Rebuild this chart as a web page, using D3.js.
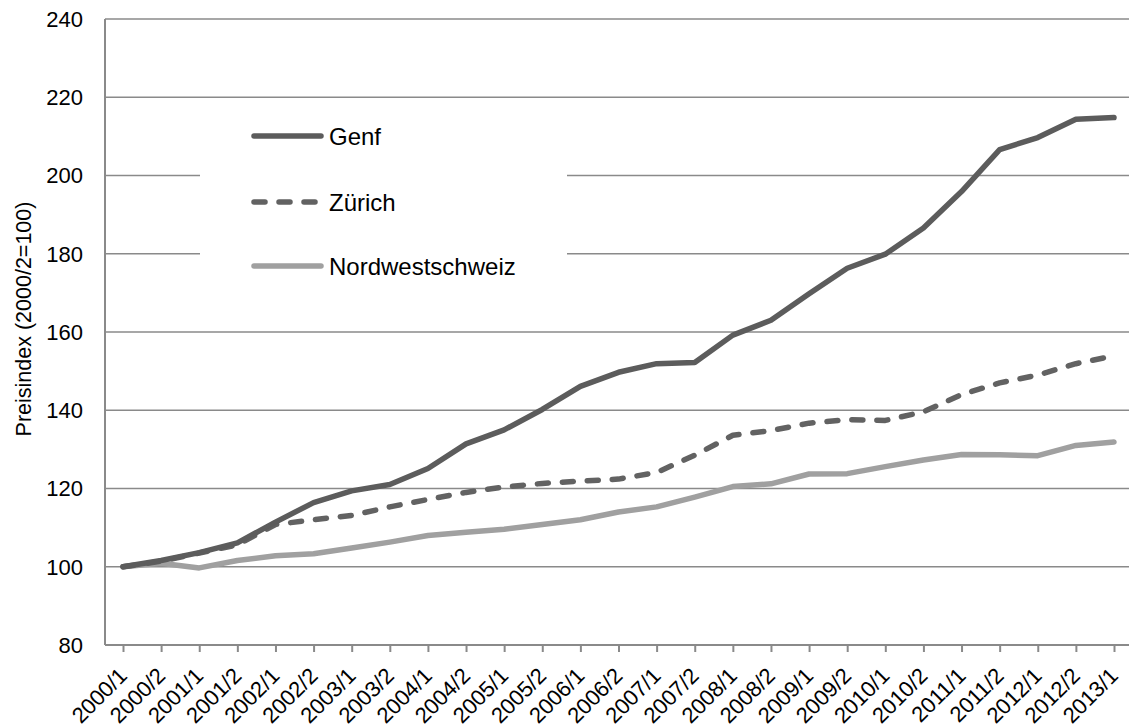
<!DOCTYPE html>
<html><head><meta charset="utf-8">
<script src="https://cdn.jsdelivr.net/npm/d3@7"></script>
<style>body{margin:0;background:#fff;}svg{display:block;font-family:"Liberation Sans",Arial,sans-serif;}</style>
</head><body>
<svg id="c" width="1129" height="727"></svg>
<script>
const categories = ["2000/1","2000/2","2001/1","2001/2","2002/1","2002/2","2003/1","2003/2","2004/1","2004/2","2005/1","2005/2","2006/1","2006/2","2007/1","2007/2","2008/1","2008/2","2009/1","2009/2","2010/1","2010/2","2011/1","2011/2","2012/1","2012/2","2013/1"];
const genf = [100,101.6,103.6,106.1,111.4,116.4,119.4,121.0,125.1,131.4,135.0,140.2,146.1,149.7,151.9,152.2,159.2,163.0,169.8,176.3,179.9,186.6,195.9,206.6,209.7,214.4,214.8];
const zuerich = [100,101.4,103.5,105.6,110.8,112.0,113.1,115.3,117.2,119.0,120.4,121.3,121.9,122.4,124.1,128.5,133.6,134.8,136.7,137.6,137.4,139.6,144.0,147.0,149.0,151.9,153.9];
const nordwest = [100,100.9,99.7,101.6,102.8,103.3,104.8,106.3,108.0,108.8,109.6,110.8,112.0,114.0,115.3,117.8,120.5,121.2,123.7,123.8,125.6,127.3,128.7,128.6,128.4,131.0,131.9];
const yTicks = [80,100,120,140,160,180,200,220,240];
const seriesNames = ["Genf","Zürich","Nordwestschweiz"];

const svg = d3.select("#c");
const pLeft = 105, pTop = 19, pBottom = 645, pRight = 1140;
const x = d3.scalePoint().domain(categories).range([123, 1114]);
const y = d3.scaleLinear().domain([80,240]).range([pBottom, pTop]);
const grid = "#8a8a8a";

// gridlines
svg.append("g").selectAll("line").data(yTicks.slice(1)).join("line")
  .attr("x1", pLeft).attr("x2", pRight).attr("y1", d=>y(d)).attr("y2", d=>y(d))
  .attr("stroke", grid).attr("stroke-width", 1.6);

// y axis line
svg.append("line").attr("x1",pLeft).attr("x2",pLeft).attr("y1",pTop).attr("y2",pBottom)
  .attr("stroke",grid).attr("stroke-width",2);
// x axis
const xa = svg.append("g").attr("transform",`translate(0,${pBottom})`)
  .call(d3.axisBottom(x).tickSize(7).tickPadding(0));
xa.select(".domain").attr("d",`M${pLeft},0H${pRight}`).attr("stroke",grid).attr("stroke-width",2);
xa.selectAll(".tick line").attr("stroke",grid).attr("stroke-width",2);
xa.selectAll(".tick text").attr("fill","#000").attr("font-size",22)
  .attr("text-anchor","end").attr("dy",0).attr("y",0)
  .attr("transform","translate(5,32) rotate(-45)");

// y tick labels
svg.append("g").selectAll("text").data(yTicks).join("text")
  .attr("x", 83).attr("y", d=>y(d)).attr("dy","0.36em").attr("text-anchor","end")
  .attr("font-size",22).attr("fill","#000").text(d=>d);

// y title
svg.append("text").attr("transform",`translate(31,319) rotate(-90)`)
  .attr("text-anchor","middle").attr("font-size",21.5).attr("fill","#000")
  .text("Preisindex (2000/2=100)");

// legend background
svg.append("rect").attr("x",200).attr("y",108).attr("width",367).attr("height",192).attr("fill","#fff");

const styles = [
  {c:"#5c5c5c", dash:null},
  {c:"#626262", dash:"11,14"},
  {c:"#a0a0a0", dash:null}
];
const data = [genf, zuerich, nordwest];
const line = d3.line().x((d,i)=>x(categories[i])).y(d=>y(d));
[2,1,0].forEach(k=>{
  svg.append("path").datum(data[k]).attr("d",line).attr("fill","none")
    .attr("stroke",styles[k].c).attr("stroke-width",5.5)
    .attr("stroke-linejoin","round").attr("stroke-linecap","round")
    .attr("stroke-dasharray",styles[k].dash);
});

// legend
const ly = [136,202,266];
seriesNames.forEach((n,k)=>{
  svg.append("line").attr("x1",254).attr("x2",321).attr("y1",ly[k]).attr("y2",ly[k])
    .attr("stroke",styles[k].c).attr("stroke-width",5.5).attr("stroke-linecap","round")
    .attr("stroke-dasharray",styles[k].dash);
  svg.append("text").attr("x",329).attr("y",ly[k]).attr("dy","0.36em")
    .attr("font-size",24).attr("fill","#000").text(n);
});
</script>
</body></html>
